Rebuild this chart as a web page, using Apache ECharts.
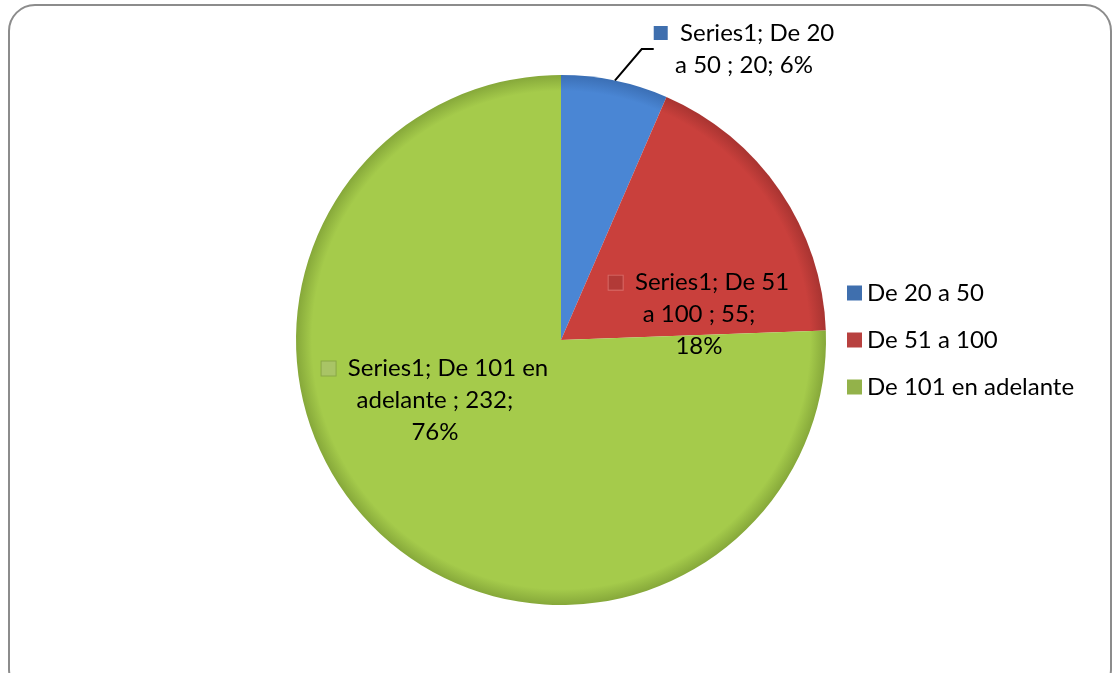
<!DOCTYPE html>
<html>
<head>
<meta charset="utf-8">
<script src="https://cdn.jsdelivr.net/npm/echarts@6/dist/echarts.min.js"></script>
<style>
  html, body { margin: 0; padding: 0; background: #fff; }
  #chart { width: 1120px; height: 673px; }
</style>
</head>
<body>
<div id="chart"></div>
<script>
var categories = ["De 20 a 50", "De 51 a 100", "De 101 en adelante"];
var values = [20, 55, 232];
var seriesName = "Series1";
var colors = ["#4a86d4", "#c9403c", "#a5cb4b"];
var edgeColors = ["#3b6fb5", "#a83431", "#86a83a"];
var iconColors = ["#3f6fae", "#b8413f", "#93b24a"];

var chart = echarts.init(document.getElementById("chart"));

var cx = 561, cy = 340, r = 265;

function sliceColor(i) {
  return new echarts.graphic.RadialGradient(cx, cy, r, [
    { offset: 0, color: colors[i] },
    { offset: 0.94, color: colors[i] },
    { offset: 1, color: edgeColors[i] }
  ], true);
}

// label text positions (Excel put them a bit differently than ECharts does)
var labelOpts = [
  { position: "outside" },
  { position: "inside", offset: [26, 51] },
  { position: "inside", offset: [-32, -37] }
];

var data = categories.map(function (name, i) {
  return {
    name: name,
    value: values[i],
    itemStyle: { color: sliceColor(i) },
    label: labelOpts[i]
  };
});

var option = {
  animation: false,
  backgroundColor: "#fff",
  graphic: [
    {
      type: "rect",
      shape: { x: 9, y: 5, width: 1102, height: 690, r: 26 },
      style: { fill: "none", stroke: "#8c8c8c", lineWidth: 2 },
      z: -1
    }
  ],
  legend: {
    orient: "vertical",
    left: 842,
    top: 276,
    itemWidth: 15,
    itemHeight: 15,
    itemGap: 23,
    icon: "rect",
    textStyle: { fontFamily: "Lato", fontSize: 24, color: "#000" },
    data: categories.map(function (n, i) {
      return { name: n, itemStyle: { color: iconColors[i] } };
    })
  },
  series: [
    {
      name: seriesName,
      type: "pie",
      center: [cx, cy],
      radius: r,
      startAngle: 90,
      clockwise: true,
      percentPrecision: 0,
      data: data,
      labelLine: {
        show: true,
        length: 38,
        length2: 12,
        lineStyle: { color: "#000", width: 2 }
      },
      label: {
        show: true,
        fontFamily: "Lato",
        fontSize: 24,
        lineHeight: 32,
        color: "#000",
        align: "center",
        formatter: function (p) {
          var pct = p.percent + "%";
          var i = p.dataIndex;
          if (i === 0) return "{i0|}  " + seriesName + "; De 20\na 50 ; " + p.value + "; " + pct;
          if (i === 1) return "{i1|}  " + seriesName + "; De 51\na 100 ; " + p.value + ";\n" + pct;
          return "{i2|}  " + seriesName + "; De 101 en\nadelante ; " + p.value + ";\n" + pct;
        },
        rich: {
          i0: { width: 14, height: 14, backgroundColor: iconColors[0] },
          i1: { width: 14, height: 14, backgroundColor: "#b23a37", borderColor: "#d86a66", borderWidth: 1 },
          i2: { width: 14, height: 14, backgroundColor: "#a9c466", borderColor: "#8aa846", borderWidth: 1 }
        }
      },
      labelLayout: function (params) {
        if (params.dataIndex === 0) {
          return { x: 744, y: 49, align: "center", verticalAlign: "middle" };
        }
      }
    }
  ]
};

chart.setOption(option);
</script>
</body>
</html>
